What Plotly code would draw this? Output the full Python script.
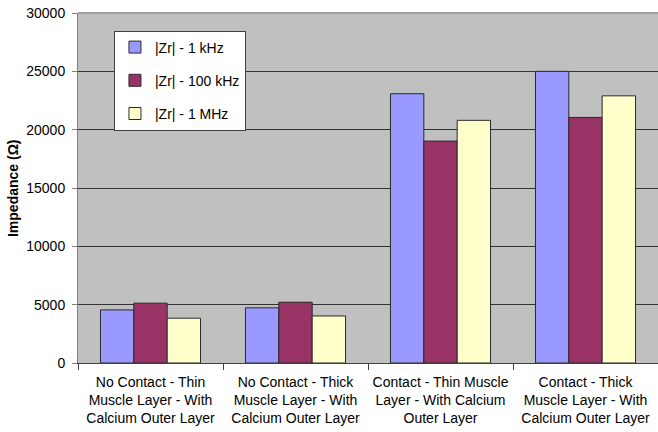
import plotly.graph_objects as go

categories = [
    "No Contact - Thin<br>Muscle Layer - With<br>Calcium Outer Layer",
    "No Contact - Thick<br>Muscle Layer - With<br>Calcium Outer Layer",
    "Contact - Thin Muscle<br>Layer - With Calcium<br>Outer Layer",
    "Contact - Thick<br>Muscle Layer - With<br>Calcium Outer Layer",
]
zr_1khz = [4550, 4730, 23080, 25000]
zr_100khz = [5130, 5210, 19020, 21050]
zr_1mhz = [3840, 4030, 20800, 22900]

series = [
    ("|Zr| - 1 kHz", zr_1khz, "#9999FF"),
    ("|Zr| - 100 kHz", zr_100khz, "#993366"),
    ("|Zr| - 1 MHz", zr_1mhz, "#FFFFCC"),
]

fig = go.Figure()
for i, (name, vals, color) in enumerate(series):
    fig.add_trace(go.Bar(
        x=categories, y=vals, name=name, legendgroup=str(i),
        marker=dict(color=color, line=dict(color="#2a2a2a", width=1)),
    ))

font_family = "Liberation Sans, Arial, sans-serif"

fig.update_layout(
    width=658, height=432,
    margin=dict(l=78, r=0, t=13, b=69),
    paper_bgcolor="white",
    plot_bgcolor="#C0C0C0",
    barmode="group",
    bargap=0.31,
    bargroupgap=0,
    font=dict(family=font_family, size=14, color="#000000"),
    legend=dict(
        x=0.062, y=0.95, xanchor="left", yanchor="top",
        bgcolor="white", bordercolor="#404040", borderwidth=1,
        font=dict(size=14),
        traceorder="grouped", tracegroupgap=12,
        itemwidth=30,
    ),
    xaxis=dict(
        showgrid=False, automargin=False, tickangle=0,
        showline=True, linecolor="#404040", linewidth=1,
        ticks="outside", tickson="boundaries", ticklen=6, tickcolor="#404040",
        tickfont=dict(size=14), ticklabelstandoff=6,
    ),
    yaxis=dict(
        range=[0, 30000], dtick=5000, tickformat="d", automargin=False,
        showgrid=True, gridcolor="#333333", gridwidth=1,
        showline=True, linecolor="#808080", linewidth=1,
        ticks="outside", ticklen=5, tickcolor="#808080",
        tickfont=dict(size=14), ticklabelstandoff=4,
        zeroline=False,
    ),
    annotations=[
        dict(text="<b>Impedance (Ω)</b>", textangle=-90,
             xref="paper", yref="paper", x=-0.112, y=0.5,
             xanchor="center", yanchor="middle", showarrow=False,
             font=dict(size=14)),
    ],
    shapes=[
        dict(type="line", xref="paper", yref="paper", x0=0, x1=1, y0=1, y1=1,
             line=dict(color="#A0A0A0", width=2), layer="above"),
    ],
)

fig.write_html("out.html")
